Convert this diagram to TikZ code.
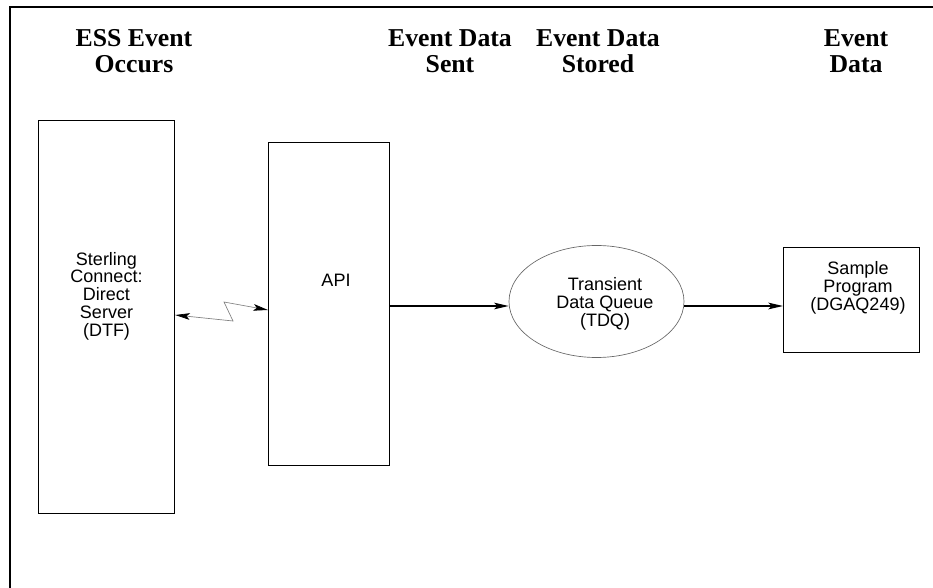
\documentclass[tikz,border=0pt]{standalone}
\usepackage{fontspec}
\setmainfont{Liberation Serif}
\setsansfont{Liberation Sans}
\usetikzlibrary{arrows.meta,shapes.geometric}
\begin{document}
\begin{tikzpicture}[x=0.75pt,y=-0.75pt,
  title/.style={font=\fontsize{19.3pt}{19.5pt}\selectfont\bfseries\rmfamily, align=center, inner sep=0pt},
  lbl/.style={font=\fontsize{13.5pt}{13.3pt}\selectfont\sffamily, align=center, inner sep=0pt},
  boxshape/.style={draw, line width=0.9pt, rectangle, inner sep=0pt, anchor=north west},
  arr/.style={line width=0.9pt, -{Stealth[length=11pt,width=5pt,inset=2.5pt]}},
  zig/.style={draw=gray, line width=0.5pt, {Stealth[length=11pt,width=5pt,inset=2.5pt,black]}-{Stealth[length=11pt,width=5pt,inset=2.5pt,black]}}
]
\useasboundingbox (0,0) rectangle (933,588);
% frame
\coordinate (fTL) at (10,7);
\coordinate (fTR) at (933,7);
\coordinate (fBL) at (10,588);
\draw[line width=1.5pt] (fTR) -- (fTL) -- (fBL);

% titles
\node[title] (t1) at (134,51) {ESS Event\\Occurs};
\node[title] (t2) at (450,51) {Event Data\\Sent};
\node[title] (t3) at (598,51) {Event Data\\Stored};
\node[title] (t4) at (856,51) {Event\\Data};

% boxes
\node[boxshape, minimum width=102pt, minimum height=294.75pt] (dtf) at (38,120) {};
\node[boxshape, minimum width=90.75pt, minimum height=242.25pt] (api) at (268,142) {};
\node[draw=black!60, line width=0.5pt, ellipse, minimum width=131.25pt, minimum height=84pt, inner sep=0pt] (tdq) at (596.5,301.5) {};
\node[boxshape, minimum width=102pt, minimum height=78.75pt] (smp) at (783,247) {};

% box texts
\node[lbl] (dtftext) at (106.5,296) {Sterling\\Connect:\\Direct\\Server\\(DTF)};
\node[lbl] (apitext) at (336,280) {API};
\node[lbl] (tdqtext) at (605,304) {Transient\\Data Queue\\(TDQ)};
\node[lbl] (smptext) at (858,288) {Sample\\Program\\(DGAQ249)};

% connectors
\coordinate (zA) at (0,315);
\coordinate (zB) at (233,321);
\coordinate (zC) at (224,302);
\coordinate (zD) at (0,310);
\draw[zig] (dtf.east |- zA) -- (zB) -- (zC) -- (api.west |- zD);

\coordinate (aY) at (0,306);
\draw[arr] (api.east |- aY) -- (tdq.west |- aY);
\draw[arr] (tdq.east |- aY) -- (smp.west |- aY);
\end{tikzpicture}
\end{document}
